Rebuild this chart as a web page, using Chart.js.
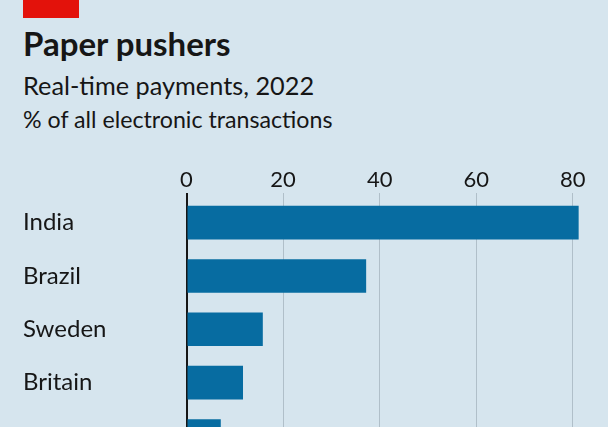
<!DOCTYPE html>
<html>
<head>
<meta charset="utf-8">
<script src="https://cdn.jsdelivr.net/npm/chart.js@4"></script>
<style>
html, body { margin:0; padding:0; width:608px; height:427px; overflow:hidden; background:#d6e5ee; }
body { position:relative; font-family: Lato, "Noto Sans", sans-serif; color:#161616; }
#tag { position:absolute; left:23px; top:0; width:56px; height:18px; background:#e3120b; }
.t { position:absolute; left:23px; white-space:nowrap; line-height:1; }
#title { top:27px; font-size:33px; font-weight:700; }
#sub { top:73.3px; font-size:25.3px; }
#unit { top:107.7px; font-size:23.2px; }
#wrap { position:absolute; left:0; top:0; width:608px; height:477px; }
</style>
</head>
<body>
<div id="tag"></div>
<div class="t" id="title">Paper pushers</div>
<div class="t" id="sub">Real-time payments, 2022</div>
<div class="t" id="unit">% of all electronic transactions</div>
<div id="wrap"><canvas id="c"></canvas></div>
<script>
const categories = ["India", "Brazil", "Sweden", "Britain", "Canada"];
const values = [81.2, 37.2, 15.8, 11.7, 7.1];
const xTicks = [0, 20, 40, 60, 80];

const ink = '#161616';
new Chart(document.getElementById('c'), {
  type: 'bar',
  data: {
    labels: categories,
    datasets: [{
      data: values,
      backgroundColor: '#076ca1',
      borderWidth: 0,
      categoryPercentage: 1,
      barPercentage: 0.63
    }]
  },
  options: {
    indexAxis: 'y',
    responsive: true,
    maintainAspectRatio: false,
    animation: false,
    layout: { padding: { left: 23, right: 11, top: 0, bottom: 7.5 } },
    plugins: { legend: { display: false }, tooltip: { enabled: false } },
    scales: {
      x: {
        position: 'top',
        min: 0,
        max: 85,
        afterBuildTicks: s => { s.ticks = xTicks.map(v => ({ value: v })); },
        afterFit: s => { s.height = 196; },
        border: { display: false },
        grid: {
          drawTicks: true,
          tickLength: 3,
          color: ctx => (ctx.tick && ctx.tick.value === 0) ? ink : '#b0bfc9',
          lineWidth: ctx => (ctx.tick && ctx.tick.value === 0) ? 2 : 1
        },
        ticks: {
          padding: 0,
          color: ink,
          font: { family: 'Lato', size: 22 },
          callback: v => String(v)
        }
      },
      y: {
        z: 1,
        afterFit: s => { s.width = 163.5; },
        grid: { display: false, drawTicks: false },
        border: { display: true, color: ink, width: 2 },
        ticks: {
          crossAlign: 'far',
          padding: 0,
          color: ink,
          font: { family: 'Lato', size: 24 }
        }
      }
    }
  }
});
</script>
</body>
</html>
